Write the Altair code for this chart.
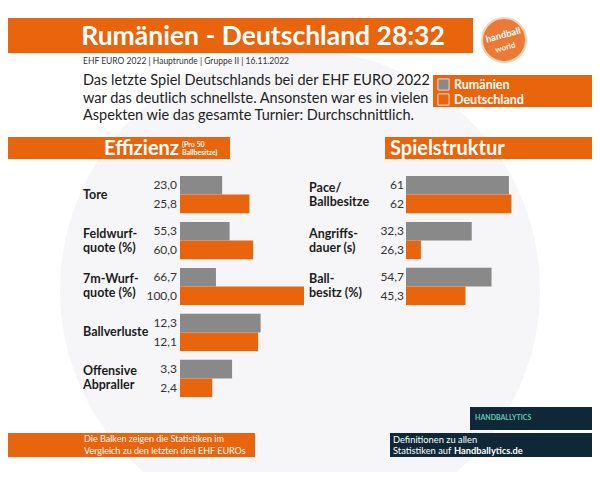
import altair as alt
import pandas as pd

# ---------------- data ----------------
teams = ["Rumänien", "Deutschland"]

eff_keys = ["Tore", "Feldwurf", "7m", "Ballverluste", "Offensive"]
eff_labels = [["Tore"], ["Feldwurf-", "quote (%)"], ["7m-Wurf-", "quote (%)"], ["Ballverluste"],
              ["Offensive", "Abpraller"]]
eff_rum = [23.0, 55.3, 66.7, 12.3, 3.3]
eff_ger = [25.8, 60.0, 100.0, 12.1, 2.4]
eff_dec = [1, 1, 1, 1, 1]
# bar length = comparison with the last three EHF EUROs (0-100)
eff_rum_bar = [34, 40, 29, 65, 42]
eff_ger_bar = [56, 59, 100, 63, 26]

str_keys = ["Pace", "Angriffsdauer", "Ballbesitz"]
str_labels = [["Pace/", "Ballbesitze"], ["Angriffs-", "dauer (s)"], ["Ball-", "besitz (%)"]]
str_rum = [61, 32.3, 54.7]
str_ger = [62, 26.3, 45.3]
str_dec = [0, 1, 1]
str_rum_bar = [83, 53, 69]
str_ger_bar = [85, 12, 48]

title_text = "Rumänien - Deutschland 28:32"
subtitle_text = "EHF EURO 2022 | Hauptrunde | Gruppe II | 16.11.2022"
desc_lines = [
    "Das letzte Spiel Deutschlands bei der EHF EURO 2022",
    "war das deutlich schnellste. Ansonsten war es in vielen",
    "Aspekten wie das gesamte Turnier: Durchschnittlich.",
]
section_titles = ["Effizienz", "Spielstruktur"]
section_note = ["(Pro 50", "Ballbesitze)"]
note_left = ["Die Balken zeigen die Statistiken im", "Vergleich zu den letzten drei EHF EUROs"]
note_right = ["Definitionen zu allen", "Statistiken auf", "Handballytics.de"]
logo_words = ["handball", "world"]
hb_logo = "HANDBALLYTICS"

# ---------------- style ----------------
ORANGE = "#E8650E"
GRAY = "#898989"
NAVY = "#0E2838"
DARK = "#1c1c1c"
FONT = "Lato"


def long_df(keys, rum, ger, rb, gb, dec):
    rows = []
    for i, k in enumerate(keys):
        for team, v, b in ((teams[0], rum[i], rb[i]), (teams[1], ger[i], gb[i])):
            rows.append(dict(key=k, team=team, value=v, bar=b,
                             text=f"{v:.{dec[i]}f}".replace(".", ",")))
    return pd.DataFrame(rows)


def label_df(keys, labels):
    rows = []
    for k, lines in zip(keys, labels):
        pos = ["mid"] if len(lines) == 1 else ["top", "bot"]
        for p, t in zip(pos, lines):
            rows.append(dict(key=k, pos=p, text=t))
    return pd.DataFrame(rows)


eff_df = long_df(eff_keys, eff_rum, eff_ger, eff_rum_bar, eff_ger_bar, eff_dec)
str_df = long_df(str_keys, str_rum, str_ger, str_rum_bar, str_ger_bar, str_dec)
eff_cat = label_df(eff_keys, eff_labels)
str_cat = label_df(str_keys, str_labels)

dummy = pd.DataFrame({"d": [0]})


def deco_rect(x, x2, y, y2, color, **kw):
    return alt.Chart(dummy).mark_rect(color=color, **kw).encode(
        x=alt.value(x), x2=alt.value(x2), y=alt.value(y), y2=alt.value(y2))


def deco_text(s, x, y, size, color, weight="normal", align="left", baseline="alphabetic", **kw):
    return alt.Chart(dummy).mark_text(text=s, font=FONT, fontSize=size, fontWeight=weight,
                                      color=color, align=align, baseline=baseline, **kw).encode(
        x=alt.value(x), y=alt.value(y))


yoff_bar = alt.Scale(domain=teams, paddingInner=0, paddingOuter=0)
yoff_txt = alt.Scale(domain=teams, type="point", padding=0.5)
legend = alt.Legend(title=None, orient="none", legendX=429, legendY=70, padding=0,
                    labelColor="white", labelFont=FONT, labelFontWeight="bold", labelFontSize=12.5,
                    symbolType="square", symbolSize=125, symbolStrokeColor="#f3d9c6",
                    symbolStrokeWidth=1, symbolOpacity=1, rowPadding=-2, labelOffset=4)
color_enc = alt.Color("team:N", scale=alt.Scale(domain=teams, range=[GRAY, ORANGE]), legend=legend)


def panel(df, cat, keys, yrange, xrange, label_x, value_x):
    ys = alt.Scale(domain=keys, range=yrange, paddingInner=0.19, paddingOuter=0)
    xs = alt.Scale(domain=[0, 100], range=xrange)
    bars = alt.Chart(df).mark_bar().encode(
        y=alt.Y("key:N", scale=ys, axis=None),
        yOffset=alt.YOffset("team:N", scale=yoff_bar),
        x=alt.X("bar:Q", scale=xs, axis=None),
        color=color_enc,
    )
    vals = alt.Chart(df).mark_text(font=FONT, fontSize=12, color="#333333", align="right",
                                   baseline="middle").encode(
        y=alt.Y("key:N", scale=ys, axis=None),
        yOffset=alt.YOffset("team:N", scale=yoff_txt),
        x=alt.value(value_x),
        text="text:N",
    )
    labs = alt.Chart(cat).mark_text(font=FONT, fontSize=12.5, fontWeight="bold", color=DARK,
                                    align="left", baseline="middle").encode(
        y=alt.Y("key:N", scale=ys, axis=None),
        yOffset=alt.YOffset("pos:N", scale=alt.Scale(domain=["top", "mid", "bot"], type="point",
                                                      padding=0, range=[11.6, 25.6])),
        x=alt.value(label_x),
        text="text:N",
    )
    return [bars, vals, labs]


bg = [
    alt.Chart(dummy).mark_arc(radius=240, theta=0, theta2=6.2832, color="#f6f6f8").encode(
        x=alt.value(292), y=alt.value(282)),
]

header = [
    deco_rect(0, 465, 10, 45, ORANGE),
    deco_text(title_text, 255, 37, 26.5, "white", "bold", align="center"),
    alt.Chart(dummy).mark_arc(radius=22, theta=0, theta2=6.2832, color="#EC7A36",
                              stroke="#F6D2B8", strokeWidth=2).encode(x=alt.value(496), y=alt.value(32)),
    deco_text(logo_words[0], 496, 30, 9.5, "white", "bold", align="center", angle=345),
    deco_text(logo_words[1], 498, 42, 8, "#fff4ec", "bold", align="center", angle=345),
    deco_text(subtitle_text, 75, 56, 8.5, "#333333"),
    deco_text("\n".join(desc_lines), 75, 77, 14.5, "#222222", lineBreak="\n", lineHeight=17.5),
    deco_rect(425, 592, 67, 99, ORANGE),
    deco_rect(0, 222, 129, 151, ORANGE),
    deco_text(section_titles[0], 96, 147, 20, "white", "bold"),
    deco_text("\n".join(section_note), 174, 139, 7, "white", "bold", lineBreak="\n", lineHeight=7.5),
    deco_rect(377, 592, 129, 151, ORANGE),
    deco_text(section_titles[1], 382, 147, 20, "white", "bold"),
]

footer = [
    deco_rect(0, 247, 425, 449, ORANGE),
    deco_text("\n".join(note_left), 76, 434, 9, "white", lineBreak="\n", lineHeight=11.5),
    deco_rect(462, 592, 399, 422, NAVY),
    deco_text(hb_logo, 467, 412, 7, "#6CC4B0", "bold"),
    deco_rect(382, 592, 425, 449, NAVY),
    deco_text(note_right[0], 385, 435, 9.3, "white"),
    deco_text(note_right[1], 385, 446, 9.3, "white"),
    deco_text(note_right[2], 446, 446, 9.3, "white", "bold"),
]

left = panel(eff_df, eff_cat, eff_keys, [168, 389], [172, 296], 75, 169)
right = panel(str_df, str_cat, str_keys, [168, 297], [398, 522], 301, 396)

chart = alt.layer(*bg, *header, *left, *right, *footer).resolve_scale(
    x="independent", y="independent", yOffset="independent", color="shared"
).properties(
    width=584, height=464, padding=0, autosize=alt.AutoSizeParams(type="none"),
    background="white"
).configure_view(stroke=None)

chart.save("out.html", embed_options={"renderer": "svg", "actions": False})
